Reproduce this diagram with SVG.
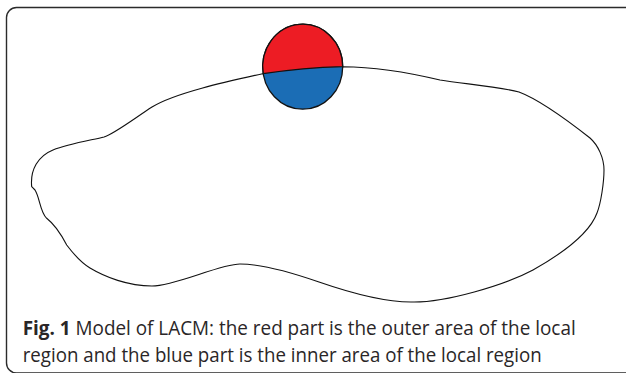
<svg xmlns="http://www.w3.org/2000/svg" width="626" height="373" viewBox="0 0 626 373">
  <style>
    .frame { fill: #ffffff; stroke: #2b2b2b; stroke-width: 1.4; }
    .outline { fill: none; stroke: #111111; stroke-width: 1.1; stroke-linejoin: round; }
    .edge { stroke: #111111; stroke-width: 1.3; }
    .outer { fill: #ED1C24; }
    .inner { fill: #1B6DB5; }
    .cap { font-family: "Open Sans", "Noto Sans", "Liberation Sans", sans-serif; font-size: 20px; fill: #2a2627; }
    .bold { font-weight: bold; }
  </style>
  <rect class="frame" x="6.5" y="7.5" width="630" height="365.5" rx="10" ry="10"/>
  <g id="region">
    <path class="outline" d="M342.7,66.7 C380,67 415,74 440,80 C466,84 500,87 519,92 C535,98 562,116 590,138 C598,145 604,158 604,170 C604,182 601,203 597,213 C590,232 565,252 533,270 C505,285 445,303 411,302 C380,302 345,291 319,282 C293,273 262,264 240,264 C220,264 175,286 152,286 C128,286 105,277 90,268 C80,262 72,252 66.7,245 C62,236 54,224 46.7,218.3 C40,212 40,198 35,190 L31.7,186.7 C30,170 38,156 53,150 C68,144 92,140 104,137 C114,134 135,118 152,107 C175,93 225,82 262.7,73.7 Q303,67.8 342.7,66.7 Z"/>
  </g>
  <g id="local-region">
    <ellipse class="inner edge" cx="302.7" cy="66.7" rx="40" ry="42.5"/>
    <path class="outer edge" d="M263.25,73.7 A40,42.5 0 1 1 342.7,66.7 Q303,67.8 263.25,73.7 Z"/>
  </g>
  <g id="caption">
    <text class="cap" x="22.7" y="335.3" textLength="553" lengthAdjust="spacingAndGlyphs"><tspan class="bold">Fig. 1</tspan> Model of LACM: the red part is the outer area of the local</text>
    <text class="cap" x="22.7" y="361.5" textLength="519" lengthAdjust="spacingAndGlyphs">region and the blue part is the inner area of the local region</text>
  </g>
</svg>
